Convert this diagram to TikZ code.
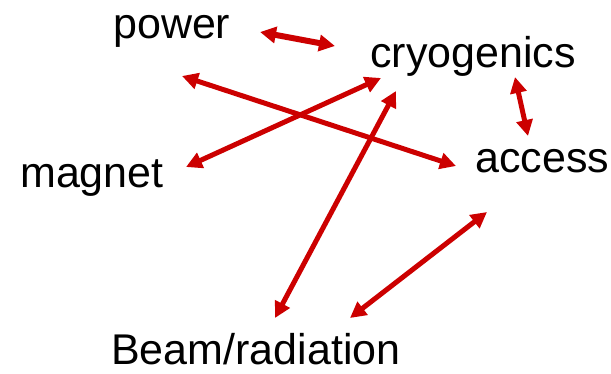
\documentclass[tikz,border=0pt]{standalone}
\usepackage{fontspec}
\setmainfont{Liberation Sans}
\usetikzlibrary{arrows.meta}
\definecolor{arrred}{RGB}{204,0,0}
\begin{document}
\begin{tikzpicture}[x=1pt,y=-1pt,
  lbl/.style={inner sep=0pt,anchor=base west,font=\fontsize{43}{48}\selectfont},
  link/.style={draw=arrred,line width=5pt,{Triangle[length=16pt,width=16pt]}-{Triangle[length=16pt,width=16pt]}}]
\useasboundingbox (0,0) rectangle (611,373);
\node[lbl] (power) at (113,38) {power};
\node[lbl] (cryo) at (370,67) {cryogenics};
\node[lbl] (magnet) at (20,187) {magnet};
\node[lbl] (access) at (475,172) {access};
\node[lbl] (beam) at (111,364) {Beam/radiation};
% arrow end points
\coordinate (pc1) at (260,32);
\coordinate (pc2) at (335,46);
\coordinate (pa1) at (182,76);
\coordinate (pa2) at (456,166);
\coordinate (mc1) at (186,167);
\coordinate (mc2) at (381,78);
\coordinate (bc1) at (275,318);
\coordinate (bc2) at (396,91);
\coordinate (ca1) at (515,77);
\coordinate (ca2) at (528,136);
\coordinate (ba1) at (350,318);
\coordinate (ba2) at (487,212);
\draw[link,line width=6pt] (pc1) -- (pc2);
\draw[link] (pa1) -- (pa2);
\draw[link] (mc1) -- (mc2);
\draw[link] (bc1) -- (bc2);
\draw[link] (ca1) -- (ca2);
\draw[link] (ba1) -- (ba2);
\end{tikzpicture}
\end{document}
